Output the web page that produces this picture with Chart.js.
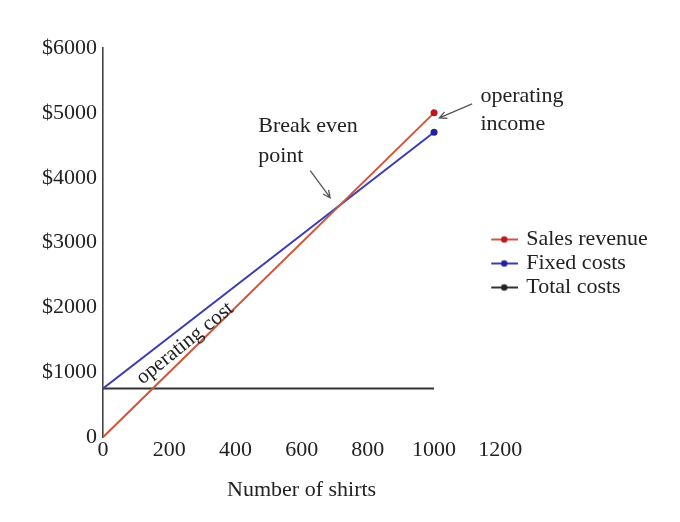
<!DOCTYPE html>
<html><head><meta charset="utf-8">
<script src="https://cdn.jsdelivr.net/npm/chart.js@4"></script>
<style>html,body{margin:0;padding:0;background:#fff}#wrap{width:680px;height:522px;position:relative}</style>
</head><body><div id="wrap"><canvas id="c"></canvas></div>
<script>
const shirts = [0, 1000];
const salesRevenue = [0, 5000];
const fixedCosts = [750, 4700];
const totalCosts = [750, 750];
const xTickValues = [0, 200, 400, 600, 800, 1000, 1200];
const yTickValues = [0, 1000, 2000, 3000, 4000, 5000, 6000];
const seriesLabels = ['Sales revenue', 'Fixed costs', 'Total costs'];
const xTitle = 'Number of shirts';

const notes = [
  {text: 'Break even', x: 469, y: 4800},
  {text: 'point', x: 469, y: 4338},
  {text: 'operating', x: 1140, y: 5262},
  {text: 'income', x: 1140, y: 4831}
];
const arrows = [
  {x0: 626, y0: 4108, x1: 686, y1: 3692},
  {x0: 1115, y0: 5138, x1: 1016, y1: 4923}
];
const slantNote = {text: 'operating cost', x: 248, y: 1446};

const FONT = '"Liberation Serif", "Times New Roman", serif';
const lineColors = ['#d0553a', '#3c3cb0', '#333333'];
const dotColors = ['#c01420', '#22229a', '#222222'];

function legendIcon(color, dot) {
  const c = document.createElement('canvas');
  c.width = 28; c.height = 10;
  const g = c.getContext('2d');
  g.strokeStyle = color; g.lineWidth = 2;
  g.beginPath(); g.moveTo(0, 5); g.lineTo(28, 5); g.stroke();
  g.fillStyle = dot;
  g.beginPath(); g.arc(14, 5, 3.2, 0, Math.PI * 2); g.fill();
  return c;
}
const icons = lineColors.map((c, i) => legendIcon(c, dotColors[i]));

const toPts = arr => shirts.map((s, i) => ({x: s, y: arr[i]}));

const annot = {
  id: 'annot',
  afterLayout(chart) {
    const lg = chart.legend;
    if (lg) { lg.top -= 12; lg.bottom -= 12; lg.left -= 9; }
  },
  afterDraw(chart) {
    const {ctx} = chart; const x = chart.scales.x, y = chart.scales.y;
    ctx.save();
    ctx.font = '22px ' + FONT;
    ctx.fillStyle = '#222';
    ctx.textBaseline = 'middle'; ctx.textAlign = 'left';
    notes.forEach(n => ctx.fillText(n.text, x.getPixelForValue(n.x), y.getPixelForValue(n.y)));
    ctx.strokeStyle = '#555'; ctx.lineWidth = 1.3;
    arrows.forEach(a => {
      const px0 = x.getPixelForValue(a.x0), py0 = y.getPixelForValue(a.y0);
      const px1 = x.getPixelForValue(a.x1), py1 = y.getPixelForValue(a.y1);
      const ang = Math.atan2(py1 - py0, px1 - px0);
      ctx.beginPath(); ctx.moveTo(px0, py0); ctx.lineTo(px1, py1);
      const h = 8;
      ctx.moveTo(px1 - h * Math.cos(ang - 0.45), py1 - h * Math.sin(ang - 0.45));
      ctx.lineTo(px1, py1);
      ctx.lineTo(px1 - h * Math.cos(ang + 0.45), py1 - h * Math.sin(ang + 0.45));
      ctx.stroke();
    });
    const ax0 = x.getPixelForValue(shirts[0]), ay0 = y.getPixelForValue(fixedCosts[0]);
    const ax1 = x.getPixelForValue(shirts[1]), ay1 = y.getPixelForValue(fixedCosts[1]);
    const rot = Math.atan2(ay1 - ay0, ax1 - ax0) - 0.02;
    ctx.translate(x.getPixelForValue(slantNote.x), y.getPixelForValue(slantNote.y));
    ctx.rotate(rot);
    ctx.textAlign = 'center';
    ctx.font = '21px ' + FONT;
    ctx.fillText(slantNote.text, 0, 0);
    ctx.restore();
  }
};

new Chart(document.getElementById('c'), {
  type: 'line',
  data: {
    datasets: [
      {label: seriesLabels[0], data: toPts(salesRevenue), borderColor: lineColors[0], backgroundColor: dotColors[0],
       pointBackgroundColor: dotColors[0], pointBorderWidth: 0, pointRadius: [0, 3.5], borderWidth: 2},
      {label: seriesLabels[1], data: toPts(fixedCosts), borderColor: lineColors[1], backgroundColor: dotColors[1],
       pointBackgroundColor: dotColors[1], pointBorderWidth: 0, pointRadius: [0, 3.5], borderWidth: 2},
      {label: seriesLabels[2], data: toPts(totalCosts), borderColor: lineColors[2], backgroundColor: dotColors[2],
       pointRadius: 0, borderWidth: 2}
    ]
  },
  options: {
    responsive: true, maintainAspectRatio: false, animation: false,
    layout: {padding: {left: 36, top: 48, right: 25, bottom: 19}},
    plugins: {
      tooltip: {enabled: false},
      legend: {
        position: 'right',
        labels: {
          usePointStyle: true, boxWidth: 22, boxHeight: 10, padding: 2,
          color: '#222', font: {family: FONT, size: 22},
          generateLabels(chart) {
            const items = Chart.defaults.plugins.legend.labels.generateLabels(chart);
            items.forEach((it, i) => { it.pointStyle = icons[i]; });
            return items;
          }
        }
      }
    },
    scales: {
      x: {
        type: 'linear', min: 0, max: 1200,
        afterBuildTicks(s) { s.ticks = xTickValues.map(v => ({value: v})); },
        grid: {display: false, drawTicks: false},
        border: {display: false},
        ticks: {color: '#222', font: {family: FONT, size: 22}, padding: 0, maxRotation: 0,
          callback: v => String(v)},
        title: {display: true, text: xTitle, color: '#222', font: {family: FONT, size: 22}, padding: {top: 13, bottom: 0}}
      },
      y: {
        min: 0, max: 6000,
        afterBuildTicks(s) { s.ticks = yTickValues.map(v => ({value: v})); },
        grid: {display: false, drawTicks: false},
        border: {display: true, color: '#444', width: 1.6},
        ticks: {color: '#222', font: {family: FONT, size: 22}, padding: 6,
          callback: v => v === 0 ? '0' : '$' + v}
      }
    }
  },
  plugins: [annot]
});
</script></body></html>
